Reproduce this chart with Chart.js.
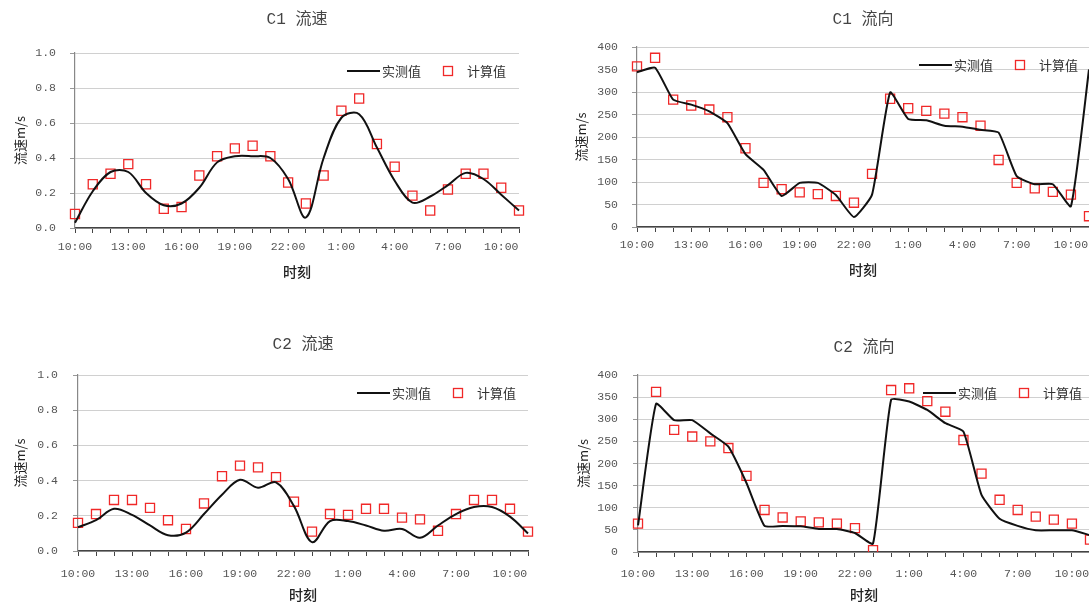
<!DOCTYPE html>
<html>
<head>
<meta charset="utf-8">
<title>C1 / C2 流速与流向</title>
<script src="https://cdn.jsdelivr.net/npm/chart.js@4.4.0/dist/chart.umd.min.js"></script>
<style>
  html, body { margin: 0; padding: 0; background: #fff; overflow: hidden; width: 1089px; height: 602px; }
  canvas { position: absolute; }
</style>
</head>
<body>
<canvas id="c1-speed" width="545" height="290" style="left:0;top:0"></canvas>
<canvas id="c1-dir" width="550" height="290" style="left:560px;top:0"></canvas>
<canvas id="c2-speed" width="545" height="290" style="left:0;top:320px"></canvas>
<canvas id="c2-dir" width="550" height="290" style="left:560px;top:320px"></canvas>
<script>
// 10:00 到次日 11:00，每小时一个观测
const hours = ['10:00','11:00','12:00','13:00','14:00','15:00','16:00','17:00','18:00','19:00',
  '20:00','21:00','22:00','23:00','0:00','1:00','2:00','3:00','4:00','5:00',
  '6:00','7:00','8:00','9:00','10:00','11:00'];

const seriesNames = ['实测值', '计算值'];

// C1 流速 (m/s)
const c1SpeedMeasured = [0.03,0.21,0.32,0.32,0.20,0.13,0.14,0.23,0.375,0.41,0.41,0.40,0.28,0.06,
  0.40,0.63,0.65,0.46,0.27,0.145,0.18,0.245,0.315,0.28,0.19,0.10];
const c1SpeedCalc = [0.08,0.25,0.31,0.365,0.25,0.11,0.12,0.30,0.41,0.455,0.47,0.41,0.26,0.14,
  0.30,0.67,0.74,0.48,0.35,0.185,0.10,0.22,0.31,0.31,0.23,0.10];

// C1 流向 (°)
const c1DirMeasured = [344,354,283,272,257,231,162,127,69,98,98,71,22,72,
  299,240,237,225,223,216,210,113,95,95,46,350];
const c1DirCalc = [357,376,283,270,261,244,175,98,84,77,73,69,54,118,
  285,264,258,252,244,225,149,98,86,78,72,24];

// C2 流速 (m/s)
const c2SpeedMeasured = [0.135,0.175,0.24,0.205,0.145,0.09,0.105,0.21,0.32,0.405,0.36,0.39,0.255,0.05,
  0.17,0.17,0.145,0.115,0.125,0.075,0.145,0.21,0.25,0.25,0.195,0.10];
const c2SpeedCalc = [0.16,0.21,0.29,0.29,0.245,0.175,0.125,0.27,0.425,0.485,0.475,0.42,0.28,0.11,
  0.21,0.205,0.24,0.24,0.19,0.18,0.115,0.21,0.29,0.29,0.24,0.11];

// C2 流向 (°)
const c2DirMeasured = [60,335,298,298,268,238,156,59,59,58,52,52,43,19,
  344,340,321,291,272,129,75,59,49,49,49,38];
const c2DirCalc = [64,362,276,261,250,235,172,95,78,69,67,64,54,4,
  366,370,341,317,253,177,118,95,80,73,64,28];

const monoCjk = "'Liberation Mono', 'Noto Sans CJK SC'";
const cjk = "'Noto Sans CJK SC', sans-serif";

// legend drawn inside the plot, top right, like the spreadsheet layout
const inlineLegend = {
  id: 'inlineLegend',
  afterDatasetsDraw(chart, args, opts) {
    const {ctx, chartArea} = chart;
    const [lineSet, markSet] = chart.data.datasets;
    ctx.save();
    ctx.font = '13px ' + cjk;
    ctx.textBaseline = 'middle';
    ctx.fillStyle = '#333';
    const y = chartArea.top + opts.dy;
    const w1 = ctx.measureText(lineSet.label).width;
    const w2 = ctx.measureText(markSet.label).width;

    const x2 = chartArea.right - opts.dx - w2;
    ctx.fillText(markSet.label, x2, y);

    const mx = x2 - 19;
    ctx.strokeStyle = markSet.borderColor;
    ctx.lineWidth = 1.3;
    ctx.strokeRect(mx - 4.5, y - 4.5, 9, 9);

    const x1 = mx - 27 - w1;
    ctx.fillText(lineSet.label, x1, y);
    ctx.beginPath();
    ctx.moveTo(x1 - 35, y);
    ctx.lineTo(x1 - 2, y);
    ctx.strokeStyle = lineSet.borderColor;
    ctx.lineWidth = 2;
    ctx.stroke();
    ctx.restore();
  }
};

function drawPanel(id, p) {
  const ctx = document.getElementById(id);
  return new Chart(ctx, {
    type: 'line',
    data: {
      labels: hours,
      datasets: [{
        label: seriesNames[0],
        data: p.measured,
        borderColor: '#111',
        borderWidth: 2,
        pointRadius: 0,
        tension: p.tension,
        fill: false
      }, {
        label: seriesNames[1],
        data: p.calc,
        showLine: false,
        pointStyle: 'rect',
        pointRadius: 6.4,
        pointBorderWidth: 1.3,
        borderColor: '#f02828',
        backgroundColor: 'rgba(0,0,0,0)'
      }]
    },
    options: {
      responsive: false,
      animation: false,
      events: [],
      layout: { padding: { left: 0, right: p.padRight, top: 0, bottom: 0 } },
      scales: {
        x: {
          type: 'category',
          offset: false,
          afterFit: s => { s.height = p.xHeight; },
          grid: { display: true, drawOnChartArea: false, drawTicks: true, tickLength: 5, tickColor: '#444' },
          border: { color: '#444', width: 1.5 },
          ticks: {
            autoSkip: false,
            maxRotation: 0,
            padding: p.xTickPad,
            color: '#555',
            font: { family: monoCjk, size: 11.5 },
            callback: (v, i) => (i % 3 === 0 ? hours[i] : '')
          },
          title: {
            display: true,
            text: '时刻',
            color: '#222',
            font: { family: cjk, size: 14, weight: '500' },
            padding: { top: 0, bottom: p.xTitleBottom }
          }
        },
        y: {
          min: 0,
          max: p.yMax,
          afterFit: s => { s.width = p.yWidth; },
          grid: { color: '#d0d0d0', lineWidth: 1, tickLength: 5, tickColor: '#999' },
          border: { color: '#888', width: 1.2 },
          ticks: {
            stepSize: p.yStep,
            padding: p.yTickPad,
            color: '#555',
            font: { family: monoCjk, size: 11.5 },
            callback: v => (p.yDigits ? v.toFixed(p.yDigits) : String(v))
          },
          title: {
            display: true,
            text: '流速m/s',
            color: '#222',
            font: { family: cjk, size: 13 },
            padding: { top: p.yTitleTop, bottom: 0 }
          }
        }
      },
      plugins: {
        legend: { display: false },
        tooltip: { enabled: false },
        title: {
          display: true,
          fullSize: false,
          text: p.title,
          color: '#444',
          font: { family: monoCjk, size: 16, weight: 'normal' },
          padding: { top: p.titleTop, bottom: p.titleBottom }
        },
        inlineLegend: { dx: p.legendDx, dy: 18 }
      }
    },
    plugins: [inlineLegend]
  });
}

drawPanel('c1-speed', {
  title: 'C1 流速', measured: c1SpeedMeasured, calc: c1SpeedCalc, tension: 0.35,
  yMax: 1, yStep: 0.2, yDigits: 1,
  titleTop: 10.4, titleBottom: 23.4, padRight: 26,
  xHeight: 62, xTickPad: 7.1, xTitleBottom: 9.6,
  yWidth: 75, yTickPad: 14, yTitleTop: 12.2, legendDx: 13
});

drawPanel('c1-dir', {
  title: 'C1 流向', measured: c1DirMeasured, calc: c1DirCalc, tension: 0.15,
  yMax: 400, yStep: 50, yDigits: 0,
  titleTop: 10.4, titleBottom: 17.4, padRight: 21,
  xHeight: 63, xTickPad: 6.1, xTitleBottom: 11.6,
  yWidth: 77, yTickPad: 14, yTitleTop: 13.2, legendDx: 11
});

drawPanel('c2-speed', {
  title: 'C2 流速', measured: c2SpeedMeasured, calc: c2SpeedCalc, tension: 0.35,
  yMax: 1, yStep: 0.2, yDigits: 1,
  titleTop: 15.4, titleBottom: 20.4, padRight: 17,
  xHeight: 59, xTickPad: 11.1, xTitleBottom: 6.6,
  yWidth: 78, yTickPad: 15, yTitleTop: 12.2, legendDx: 12
});

drawPanel('c2-dir', {
  title: 'C2 流向', measured: c2DirMeasured, calc: c2DirCalc, tension: 0.15,
  yMax: 400, yStep: 50, yDigits: 0,
  titleTop: 18.4, titleBottom: 17.4, padRight: 20,
  xHeight: 58, xTickPad: 10.1, xTitleBottom: 6.6,
  yWidth: 78, yTickPad: 15, yTitleTop: 15.2, legendDx: 8
});
</script>
</body>
</html>
